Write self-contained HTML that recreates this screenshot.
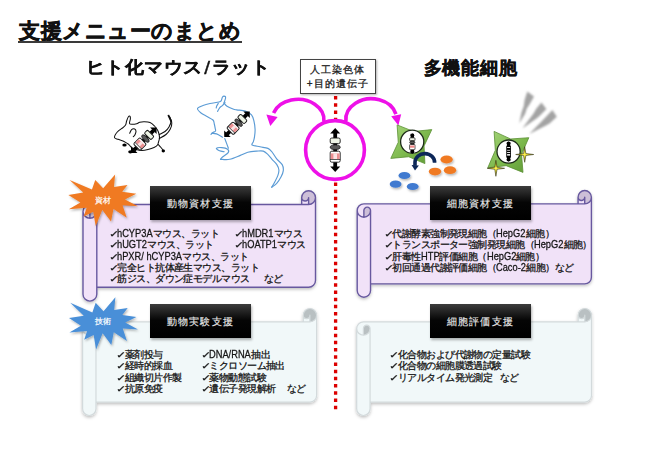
<!DOCTYPE html>
<html><head><meta charset="utf-8"><style>
html,body{margin:0;padding:0;background:#fff;}
body{width:646px;height:450px;position:relative;overflow:hidden;font-family:"Liberation Sans",sans-serif;color:#111;}
.t{position:absolute;white-space:nowrap;}
.lab{position:absolute;width:101px;height:34px;background:linear-gradient(#3c3c3c,#050505 48%,#000);color:#e8e8e8;font-size:10px;letter-spacing:1.2px;-webkit-text-stroke:0.15px #e8e8e8;text-align:center;line-height:34px;padding-top:1px;box-sizing:border-box;box-shadow:0.5px 1.5px 2.5px rgba(0,0,0,.3);}
.li{position:absolute;font-size:10px;letter-spacing:-0.55px;white-space:nowrap;color:#141414;-webkit-text-stroke:0.28px #141414;}
.li div{height:11.25px;line-height:11.25px;}
.l{font-size:10.8px;letter-spacing:0;}
.l2{display:inline-block;font-size:10.8px;letter-spacing:0;transform:scaleX(0.86);transform-origin:0 0;}
.ck{display:inline-block;font-size:11px;margin-left:-0.8px;margin-right:-0.4px;letter-spacing:0;transform:scale(1.05,0.78);transform-origin:50% 80%;}
.nd{margin-left:14px;}
</style></head><body>
<svg width="646" height="450" style="position:absolute;left:0;top:0">
<defs>
<filter id="sh" x="-10%" y="-10%" width="120%" height="130%"><feDropShadow dx="0" dy="1.5" stdDeviation="1.5" flood-color="#000" flood-opacity="0.25"/></filter>
<filter id="sh2" x="-20%" y="-20%" width="140%" height="140%"><feDropShadow dx="1" dy="1.5" stdDeviation="1" flood-color="#000" flood-opacity="0.3"/></filter>
<filter id="bl2" x="-20%" y="-20%" width="140%" height="140%"><feGaussianBlur stdDeviation="0.9"/></filter>
<radialGradient id="sp" cx="0.5" cy="0.5" r="0.5"><stop offset="0" stop-color="#fff45a"/><stop offset="0.3" stop-color="#e8dc30"/><stop offset="1" stop-color="#6a6a18"/></radialGradient>
<linearGradient id="gg" x1="0" y1="0" x2="1" y2="1"><stop offset="0" stop-color="#a6d57a"/><stop offset="0.55" stop-color="#7cb84c"/><stop offset="1" stop-color="#5f9a36"/></linearGradient>
</defs>

<line x1="335.6" y1="96.05" x2="335.6" y2="409.2" stroke="#dc0000" stroke-width="3.3" stroke-dasharray="3.5,3.7"/>
<g filter="url(#sh)"><path d="M315.50,197.60 A6.90,6.90 0 0 1 308.60,204.50 L308.60,197.60 A3.45,3.45 0 0 1 305.15,201.05 A3.45,3.45 0 0 1 301.70,197.60 L301.70,204.50 L89.90,204.50 A6.90,6.90 0 0 0 83.00,211.40 L83.00,294.20 A6.90,6.90 0 0 0 89.90,301.10 A6.90,6.90 0 0 0 96.80,294.20 L96.80,287.30 L308.60,287.30 A6.90,6.90 0 0 0 315.50,280.40 Z M89.90,218.30 A6.90,6.90 0 0 0 96.80,211.40 A3.45,3.45 0 0 0 93.35,207.95 A3.45,3.45 0 0 0 89.90,211.40 Z" fill="#f1e2f8"/><path d="M89.90,218.30 A6.90,6.90 0 0 0 96.80,211.40 A3.45,3.45 0 0 0 93.35,207.95 A3.45,3.45 0 0 0 89.90,211.40 Z M308.60,204.50 A6.90,6.90 0 0 0 313.48,192.72 A6.90,6.90 0 0 0 301.70,197.60 A3.45,3.45 0 0 0 305.15,201.05 A3.45,3.45 0 0 0 308.60,197.60 Z" fill="#cdbfd8"/><path d="M83.00,211.40 A6.90,6.90 0 0 1 89.90,204.50 L301.70,204.50 L301.70,197.60 A6.90,6.90 0 0 1 308.60,190.70 A6.90,6.90 0 0 1 315.50,197.60 L315.50,280.40 A6.90,6.90 0 0 1 308.60,287.30 L96.80,287.30 L96.80,294.20 A6.90,6.90 0 0 1 89.90,301.10 A6.90,6.90 0 0 1 83.00,294.20 Z M301.70,204.50 L308.60,204.50 A6.90,6.90 0 0 0 315.50,197.60 M308.60,204.50 L308.60,197.60 A3.45,3.45 0 0 1 305.15,201.05 A3.45,3.45 0 0 1 301.70,197.60 M89.90,218.30 L89.90,211.40 A3.45,3.45 0 0 1 93.35,207.95 A3.45,3.45 0 0 1 96.80,211.40 A6.90,6.90 0 0 1 89.90,218.30 A6.90,6.90 0 0 1 83.00,211.40 M96.80,211.40 L96.80,287.30" fill="none" stroke="#67599f" stroke-width="1.4" stroke-linejoin="round"/></g><g filter="url(#sh)"><path d="M591.40,197.17 A6.67,6.67 0 0 1 584.73,203.84 L584.73,197.17 A3.33,3.33 0 0 1 581.40,200.50 A3.33,3.33 0 0 1 578.06,197.17 L578.06,203.84 L363.87,203.84 A6.67,6.67 0 0 0 357.20,210.51 L357.20,290.53 A6.67,6.67 0 0 0 363.87,297.20 A6.67,6.67 0 0 0 370.54,290.53 L370.54,283.86 L584.73,283.86 A6.67,6.67 0 0 0 591.40,277.19 Z M363.87,217.18 A6.67,6.67 0 0 0 370.54,210.51 A3.33,3.33 0 0 0 367.20,207.17 A3.33,3.33 0 0 0 363.87,210.51 Z" fill="#f1e2f8"/><path d="M363.87,217.18 A6.67,6.67 0 0 0 370.54,210.51 A3.33,3.33 0 0 0 367.20,207.17 A3.33,3.33 0 0 0 363.87,210.51 Z M584.73,203.84 A6.67,6.67 0 0 0 589.45,192.45 A6.67,6.67 0 0 0 578.06,197.17 A3.33,3.33 0 0 0 581.40,200.50 A3.33,3.33 0 0 0 584.73,197.17 Z" fill="#cdbfd8"/><path d="M357.20,210.51 A6.67,6.67 0 0 1 363.87,203.84 L578.06,203.84 L578.06,197.17 A6.67,6.67 0 0 1 584.73,190.50 A6.67,6.67 0 0 1 591.40,197.17 L591.40,277.19 A6.67,6.67 0 0 1 584.73,283.86 L370.54,283.86 L370.54,290.53 A6.67,6.67 0 0 1 363.87,297.20 A6.67,6.67 0 0 1 357.20,290.53 Z M578.06,203.84 L584.73,203.84 A6.67,6.67 0 0 0 591.40,197.17 M584.73,203.84 L584.73,197.17 A3.33,3.33 0 0 1 581.40,200.50 A3.33,3.33 0 0 1 578.06,197.17 M363.87,217.18 L363.87,210.51 A3.33,3.33 0 0 1 367.20,207.17 A3.33,3.33 0 0 1 370.54,210.51 A6.67,6.67 0 0 1 363.87,217.18 A6.67,6.67 0 0 1 357.20,210.51 M370.54,210.51 L370.54,283.86" fill="none" stroke="#67599f" stroke-width="1.4" stroke-linejoin="round"/></g><g filter="url(#sh)"><path d="M316.60,315.19 A6.69,6.69 0 0 1 309.91,321.88 L309.91,315.19 A3.34,3.34 0 0 1 306.57,318.53 A3.34,3.34 0 0 1 303.23,315.19 L303.23,321.88 L89.29,321.88 A6.69,6.69 0 0 0 82.60,328.56 L82.60,408.81 A6.69,6.69 0 0 0 89.29,415.50 A6.69,6.69 0 0 0 95.97,408.81 L95.97,402.12 L309.91,402.12 A6.69,6.69 0 0 0 316.60,395.44 Z M89.29,335.25 A6.69,6.69 0 0 0 95.97,328.56 A3.34,3.34 0 0 0 92.63,325.22 A3.34,3.34 0 0 0 89.29,328.56 Z" fill="#f1f8f9"/><path d="M89.29,335.25 A6.69,6.69 0 0 0 95.97,328.56 A3.34,3.34 0 0 0 92.63,325.22 A3.34,3.34 0 0 0 89.29,328.56 Z M309.91,321.88 A6.69,6.69 0 0 0 314.64,310.46 A6.69,6.69 0 0 0 303.23,315.19 A3.34,3.34 0 0 0 306.57,318.53 A3.34,3.34 0 0 0 309.91,315.19 Z" fill="#b9c0c2"/><path d="M82.60,328.56 A6.69,6.69 0 0 1 89.29,321.88 L303.23,321.88 L303.23,315.19 A6.69,6.69 0 0 1 309.91,308.50 A6.69,6.69 0 0 1 316.60,315.19 L316.60,395.44 A6.69,6.69 0 0 1 309.91,402.12 L95.97,402.12 L95.97,408.81 A6.69,6.69 0 0 1 89.29,415.50 A6.69,6.69 0 0 1 82.60,408.81 Z M303.23,321.88 L309.91,321.88 A6.69,6.69 0 0 0 316.60,315.19 M309.91,321.88 L309.91,315.19 A3.34,3.34 0 0 1 306.57,318.53 A3.34,3.34 0 0 1 303.23,315.19 M89.29,335.25 L89.29,328.56 A3.34,3.34 0 0 1 92.63,325.22 A3.34,3.34 0 0 1 95.97,328.56 A6.69,6.69 0 0 1 89.29,335.25 A6.69,6.69 0 0 1 82.60,328.56 M95.97,328.56 L95.97,402.12" fill="none" stroke="#d3dadc" stroke-width="1.2" stroke-linejoin="round"/></g><g filter="url(#sh)"><path d="M591.50,315.19 A6.69,6.69 0 0 1 584.81,321.88 L584.81,315.19 A3.34,3.34 0 0 1 581.47,318.53 A3.34,3.34 0 0 1 578.12,315.19 L578.12,321.88 L363.39,321.88 A6.69,6.69 0 0 0 356.70,328.56 L356.70,408.81 A6.69,6.69 0 0 0 363.39,415.50 A6.69,6.69 0 0 0 370.07,408.81 L370.07,402.12 L584.81,402.12 A6.69,6.69 0 0 0 591.50,395.44 Z M363.39,335.25 A6.69,6.69 0 0 0 370.07,328.56 A3.34,3.34 0 0 0 366.73,325.22 A3.34,3.34 0 0 0 363.39,328.56 Z" fill="#f1f8f9"/><path d="M363.39,335.25 A6.69,6.69 0 0 0 370.07,328.56 A3.34,3.34 0 0 0 366.73,325.22 A3.34,3.34 0 0 0 363.39,328.56 Z M584.81,321.88 A6.69,6.69 0 0 0 589.54,310.46 A6.69,6.69 0 0 0 578.12,315.19 A3.34,3.34 0 0 0 581.47,318.53 A3.34,3.34 0 0 0 584.81,315.19 Z" fill="#b9c0c2"/><path d="M356.70,328.56 A6.69,6.69 0 0 1 363.39,321.88 L578.12,321.88 L578.12,315.19 A6.69,6.69 0 0 1 584.81,308.50 A6.69,6.69 0 0 1 591.50,315.19 L591.50,395.44 A6.69,6.69 0 0 1 584.81,402.12 L370.07,402.12 L370.07,408.81 A6.69,6.69 0 0 1 363.39,415.50 A6.69,6.69 0 0 1 356.70,408.81 Z M578.12,321.88 L584.81,321.88 A6.69,6.69 0 0 0 591.50,315.19 M584.81,321.88 L584.81,315.19 A3.34,3.34 0 0 1 581.47,318.53 A3.34,3.34 0 0 1 578.12,315.19 M363.39,335.25 L363.39,328.56 A3.34,3.34 0 0 1 366.73,325.22 A3.34,3.34 0 0 1 370.07,328.56 A6.69,6.69 0 0 1 363.39,335.25 A6.69,6.69 0 0 1 356.70,328.56 M370.07,328.56 L370.07,402.12" fill="none" stroke="#d3dadc" stroke-width="1.2" stroke-linejoin="round"/></g>
<path d="M103.15,188.26 L115.13,174.40 L113.95,187.12 L127.54,185.05 L122.14,191.87 L136.28,193.84 L125.05,199.42 L137.90,206.15 L122.57,205.32 L126.78,217.63 L113.51,208.94 L111.02,221.55 L102.29,210.08 L95.70,226.00 L93.22,211.73 L83.72,216.49 L86.63,207.69 L68.83,209.25 L80.38,202.53 L68.40,194.98 L83.29,192.60 L69.59,179.88 L91.93,189.50 L95.27,179.88 Z" fill="#f07a22" filter="url(#sh2)"/>
<path d="M103.50,311.24 L115.39,297.20 L114.22,310.09 L127.71,307.99 L122.35,314.91 L136.39,316.90 L125.24,322.56 L138.00,329.38 L122.78,328.54 L126.96,341.01 L113.79,332.20 L111.32,344.99 L102.64,333.36 L96.10,349.50 L93.65,335.04 L84.21,339.86 L87.10,330.95 L69.43,332.52 L80.89,325.71 L69.00,318.06 L83.78,315.64 L70.18,302.76 L92.36,312.50 L95.68,302.76 Z" fill="#4a8fd8" filter="url(#sh2)"/>
<!-- magenta circle -->
<circle cx="335" cy="150" r="29.4" fill="#fff" stroke="#ee10e8" stroke-width="3.6"/>
<g transform="translate(335.2,150) rotate(0) scale(1.0)"><line x1="0" y1="-17" x2="0" y2="17" stroke="#000" stroke-width="3.8"/>
<path d="M-5,-16.5 L0,-22 L5,-16.5 Z" fill="#000"/>
<path d="M-5,16.5 L0,22 L5,16.5 Z" fill="#000"/>
<rect x="-5.0" y="-12" width="10" height="5.6" rx="1.6" fill="#eef4e6" stroke="#1a1a1a" stroke-width="0.9"/>
<ellipse cx="0" cy="-2.8" rx="5.0" ry="2.3" fill="#5a5a5a" stroke="#222" stroke-width="0.81"/>
<rect x="-5.0" y="1.2" width="10" height="11" rx="1.6" fill="#fff" stroke="#1a1a1a" stroke-width="0.9"/>
<rect x="-4.5" y="3.4" width="9" height="5.6" fill="#ec9092"/>
<rect x="-1.8" y="3.4" width="3.6" height="5.6" fill="#fbe3e3"/>
<line x1="-5.0" y1="9.5" x2="5.0" y2="9.5" stroke="#1a1a1a" stroke-width="0.7200000000000001"/></g>
<path d="M323.90,121.80 A26,20.6 0 0 0 314.71,104.22 A26,20.6 0 0 0 291.27,100.10 A26,20.6 0 0 0 273.57,112.95" fill="none" stroke="#ee10e8" stroke-width="3.6"/>
<path d="M266.4,114.4 L270.3,126 L277.6,116.9 Z" fill="#ee10e8"/>
<path d="M345.90,121.30 A25.5,20.7 0 0 1 355.48,103.26 A25.5,20.7 0 0 1 379.32,99.85 A25.5,20.7 0 0 1 395.93,114.14" fill="none" stroke="#ee10e8" stroke-width="3.6"/>
<path d="M391.2,116.2 L398.4,125.6 L401.2,114.3 Z" fill="#ee10e8"/>
<!-- mouse -->
<g fill="none" stroke="#111" stroke-width="1.05" stroke-linecap="round" stroke-linejoin="round">
<path d="M114.50,137.50 C114.38,136.28 115.83,133.70 117.30,132.00 C118.77,130.30 121.90,128.52 123.30,127.30 C124.70,126.08 125.13,125.80 125.70,124.70 C126.27,123.60 126.20,122.10 126.70,120.70 C127.20,119.30 128.15,117.02 128.70,116.30 C129.25,115.58 129.72,116.00 130.00,116.40 C130.28,116.80 130.48,117.55 130.40,118.70 C130.32,119.85 129.23,122.37 129.50,123.30 C129.77,124.23 130.80,124.23 132.00,124.30 C133.20,124.37 135.42,124.03 136.70,123.70 C137.98,123.37 138.48,122.62 139.70,122.30 C140.92,121.98 142.28,121.77 144.00,121.80 C145.72,121.83 148.25,121.80 150.00,122.50 C151.75,123.20 153.25,124.75 154.50,126.00 C155.75,127.25 156.75,128.67 157.50,130.00 C158.25,131.33 158.67,132.67 159.00,134.00 C159.33,135.33 159.58,136.67 159.50,138.00 C159.42,139.33 158.83,140.83 158.50,142.00 C158.17,143.17 158.25,144.08 157.50,145.00 C156.75,145.92 155.58,146.75 154.00,147.50 C152.42,148.25 150.00,149.00 148.00,149.50 C146.00,150.00 144.00,150.50 142.00,150.50 C140.00,150.50 137.68,149.97 136.00,149.50 C134.32,149.03 132.95,148.37 131.90,147.70 C130.85,147.03 130.32,146.12 129.70,145.50 C129.08,144.88 128.82,144.48 128.20,144.00 C127.58,143.52 126.98,143.13 126.00,142.60 C125.02,142.07 123.63,141.35 122.30,140.80 C120.97,140.25 119.30,139.85 118.00,139.30 C116.70,138.75 114.62,138.72 114.50,137.50 Z" fill="#fff"/>
<path d="M159.30,134.50 C160.25,134.00 163.38,132.75 165.00,131.50 C166.62,130.25 168.00,128.75 169.00,127.00 C170.00,125.25 171.12,122.97 171.00,121.00 C170.88,119.03 168.75,116.17 168.30,115.20"/><path d="M159.30,138.50 C160.42,137.83 164.17,136.08 166.00,134.50 C167.83,132.92 169.33,130.92 170.30,129.00 C171.27,127.08 171.93,125.08 171.80,123.00 C171.67,120.92 169.88,117.58 169.50,116.50"/><path d="M129.70,133.30 C130.02,132.68 130.77,130.32 131.60,129.60 C132.43,128.88 133.97,128.72 134.70,129.00 C135.43,129.28 135.95,130.35 136.00,131.30 C136.05,132.25 135.45,133.80 135.00,134.70 C134.55,135.60 133.58,136.37 133.30,136.70"/><path d="M158.30,144.50 C158.75,145.00 160.13,146.50 161.00,147.50 C161.87,148.50 163.08,150.00 163.50,150.50"/>
</g>
<path d="M168.3,115.2 L170.6,120 L171.4,122" stroke="#111" stroke-width="1.8" fill="none"/>
<ellipse cx="124.5" cy="145" rx="2.2" ry="1.6" fill="#000"/>
<ellipse cx="130.4" cy="151.8" rx="2.2" ry="1.6" fill="#000"/>
<ellipse cx="163.3" cy="151" rx="1.7" ry="1.4" fill="#000"/>
<g transform="translate(143.8,140.2) rotate(45) scale(0.82)"><line x1="0" y1="-17" x2="0" y2="17" stroke="#000" stroke-width="4.6"/>
<path d="M-5.6,-16.5 L0,-22 L5.6,-16.5 Z" fill="#000"/>
<path d="M-5.6,16.5 L0,22 L5.6,16.5 Z" fill="#000"/>
<rect x="-5.75" y="-12" width="11.5" height="5.6" rx="1.6" fill="#eef4e6" stroke="#1a1a1a" stroke-width="1.2"/>
<ellipse cx="0" cy="-2.8" rx="5.75" ry="2.3" fill="#5a5a5a" stroke="#222" stroke-width="1.08"/>
<rect x="-5.75" y="1.2" width="11.5" height="11" rx="1.6" fill="#fff" stroke="#1a1a1a" stroke-width="1.2"/>
<rect x="-5.25" y="3.4" width="10.5" height="5.6" fill="#ec9092"/>
<rect x="-1.8" y="3.4" width="3.6" height="5.6" fill="#fbe3e3"/>
<line x1="-5.75" y1="9.5" x2="5.75" y2="9.5" stroke="#1a1a1a" stroke-width="0.96"/></g>
<!-- rat -->
<g fill="none" stroke="#5b9bd5" stroke-width="1.15" stroke-linecap="round" stroke-linejoin="round">
<path d="M224.00,103.00 C224.50,103.53 225.50,105.20 227.00,106.20 C228.50,107.20 231.37,108.38 233.00,109.00 C234.63,109.62 234.75,109.55 236.80,109.90 C238.85,110.25 242.85,110.28 245.30,111.10 C247.75,111.92 250.07,113.17 251.50,114.80 C252.93,116.43 253.30,118.47 253.90,120.90 C254.50,123.33 255.00,126.75 255.10,129.40 C255.20,132.05 254.78,134.77 254.50,136.80 C254.22,138.83 253.80,140.23 253.40,141.60 C253.00,142.97 251.00,144.13 252.10,145.00 C253.20,145.87 257.37,146.23 260.00,146.80 C262.63,147.37 265.90,147.53 267.90,148.40 C269.90,149.27 270.53,150.25 272.00,152.00 C273.47,153.75 275.00,156.80 276.70,158.90 C278.40,161.00 281.10,162.65 282.20,164.60 C283.30,166.55 283.48,168.58 283.30,170.60 C283.12,172.62 282.20,174.58 281.10,176.70 C280.00,178.82 278.27,181.55 276.70,183.30 C275.13,185.05 272.53,186.55 271.70,187.20"/><path d="M271.70,187.20 C272.18,186.37 273.58,184.13 274.60,182.20 C275.62,180.27 277.08,177.63 277.80,175.60 C278.52,173.57 279.08,171.87 278.90,170.00 C278.72,168.13 277.82,166.13 276.70,164.40 C275.58,162.67 273.68,161.27 272.20,159.60 C270.72,157.93 269.28,155.82 267.80,154.40 C266.32,152.98 265.15,151.65 263.30,151.10 C261.45,150.55 259.28,150.92 256.70,151.10 C254.12,151.28 250.53,151.48 247.80,152.20 C245.07,152.92 243.32,154.22 240.30,155.40 C237.28,156.58 233.00,158.65 229.70,159.30 C226.40,159.95 222.03,159.30 220.50,159.30"/><path d="M220.50,159.30 C220.83,158.92 221.22,158.12 222.50,157.00 C223.78,155.88 227.35,153.90 228.20,152.60 C229.05,151.30 228.67,150.03 227.60,149.20 C226.53,148.37 223.67,147.73 221.80,147.60 C219.93,147.47 216.78,147.87 216.40,148.40 C216.02,148.93 218.20,150.25 219.50,150.80 C220.80,151.35 223.42,151.55 224.20,151.70"/><path d="M228.40,148.20 C228.07,147.32 227.00,144.50 226.40,142.90 C225.80,141.30 225.07,139.32 224.80,138.60"/><path d="M224.00,103.00 C224.27,102.17 225.43,99.10 225.60,98.00 C225.77,96.90 225.50,96.60 225.00,96.40 C224.50,96.20 223.22,96.10 222.60,96.80 C221.98,97.50 221.90,99.73 221.30,100.60 C220.70,101.47 220.88,101.52 219.00,102.00 C217.12,102.48 212.67,102.92 210.00,103.50 C207.33,104.08 205.08,104.67 203.00,105.50 C200.92,106.33 197.83,107.25 197.50,108.50 C197.17,109.75 199.42,111.67 201.00,113.00 C202.58,114.33 205.00,115.33 207.00,116.50 C209.00,117.67 211.78,118.75 213.00,120.00 C214.22,121.25 213.93,122.62 214.30,124.00 C214.67,125.38 215.00,127.13 215.20,128.30 C215.40,129.47 215.97,130.25 215.50,131.00 C215.03,131.75 213.15,132.22 212.40,132.80 C211.65,133.38 211.23,134.22 211.00,134.50"/><path d="M212.30,133.40 C213.02,133.48 214.90,133.27 216.60,133.90 C218.30,134.53 221.52,136.65 222.50,137.20"/><path d="M218.30,103.30 C218.05,103.72 217.15,105.02 216.80,105.80 C216.45,106.58 216.30,107.63 216.20,108.00"/><path d="M225.00,102.50 C224.60,102.97 223.47,104.45 222.60,105.30 C221.73,106.15 220.63,106.58 219.80,107.60 C218.97,108.62 217.97,110.77 217.60,111.40"/>
</g>
<g transform="translate(237,124.3) rotate(45) scale(0.82)"><line x1="0" y1="-17" x2="0" y2="17" stroke="#000" stroke-width="4.6"/>
<path d="M-5.6,-16.5 L0,-22 L5.6,-16.5 Z" fill="#000"/>
<path d="M-5.6,16.5 L0,22 L5.6,16.5 Z" fill="#000"/>
<rect x="-5.75" y="-12" width="11.5" height="5.6" rx="1.6" fill="#eef4e6" stroke="#1a1a1a" stroke-width="1.2"/>
<ellipse cx="0" cy="-2.8" rx="5.75" ry="2.3" fill="#5a5a5a" stroke="#222" stroke-width="1.08"/>
<rect x="-5.75" y="1.2" width="11.5" height="11" rx="1.6" fill="#fff" stroke="#1a1a1a" stroke-width="1.2"/>
<rect x="-5.25" y="3.4" width="10.5" height="5.6" fill="#ec9092"/>
<rect x="-1.8" y="3.4" width="3.6" height="5.6" fill="#fbe3e3"/>
<line x1="-5.75" y1="9.5" x2="5.75" y2="9.5" stroke="#1a1a1a" stroke-width="0.96"/></g>
<!-- cells -->
<g filter="url(#bl2)"><path d="M527.3,91.4 L534,96.4 L529.5,104.5 L526.8,108.5 L525,114 L519.3,123.2 L521.5,112.5 L523.8,106 L524.6,100 Z" fill="#a3a3a3"/><path d="M541.4,102.6 L546.4,108.9 L540,115.5 L536.5,118.5 L532.6,121.2 L522.3,128.6 L529,119.5 L533.5,113.5 L536.4,108.5 Z" fill="#a3a3a3"/><path d="M552.4,110 L556.8,116.7 L549.5,123.4 L545.5,125.7 L541,128 L529.2,134 L536.5,126.5 L541.5,121.5 L546.5,116.2 Z" fill="#a3a3a3"/></g>
<path d="M397.10,124.90 L413.62,131.47 L431.80,129.60 L424.05,145.98 L424.90,163.60 L408.68,156.78 L390.80,158.40 L398.25,142.27 Z" fill="url(#gg)" stroke="#5b8f34" stroke-width="0.8" stroke-linejoin="round"/>
<circle cx="412.2" cy="141.7" r="11.6" fill="#fff" stroke="#1c2a18" stroke-width="1.3"/>
<g transform="translate(412.3,143.4)">
<rect x="-1.7" y="-9.6" width="3.4" height="19.2" fill="#000"/>
<path d="M-2.6,-8 L0,-10.2 L2.6,-8 Z" fill="#000"/><path d="M-2.6,8 L0,10.2 L2.6,8 Z" fill="#000"/>
<rect x="-2.7" y="-5.6" width="5.4" height="3" rx="0.8" fill="#eef3e6" stroke="#111" stroke-width="0.7"/>
<ellipse cx="0" cy="-1" rx="2.7" ry="1.4" fill="#555" stroke="#111" stroke-width="0.6"/>
<rect x="-2.7" y="1" width="5.4" height="5.4" rx="0.8" fill="#fff" stroke="#111" stroke-width="0.7"/>
<rect x="-2.3" y="2.1" width="4.6" height="2.2" fill="#e88"/>
</g>
<path d="M494.10,131.40 L510.69,138.99 L528.80,137.70 L521.53,154.37 L523.00,172.40 L506.16,165.66 L487.80,167.80 L495.32,150.28 Z" fill="url(#gg)" stroke="#5b8f34" stroke-width="0.8" stroke-linejoin="round"/>
<circle cx="508.6" cy="151.6" r="11.6" fill="#fff" stroke="#1c2a18" stroke-width="1.3"/>
<g transform="translate(508.6,151.5)">
<rect x="-1.7" y="-9.6" width="3.4" height="19.2" fill="#000"/>
<path d="M-2.6,-8 L0,-10.2 L2.6,-8 Z" fill="#000"/><path d="M-2.6,8 L0,10.2 L2.6,8 Z" fill="#000"/>
<rect x="-2.3" y="-6" width="4.6" height="12.5" rx="1.2" fill="#000"/>
<rect x="-1.5" y="-4.4" width="3" height="0.9" fill="#fff"/>
<rect x="-1.5" y="-1.6" width="3" height="0.7" fill="#fff"/>
<rect x="-1.5" y="0.6" width="3" height="0.9" fill="#fff"/>
<rect x="-1.5" y="2.6" width="3" height="1.5" fill="#fff"/>
</g>
<path d="M524.70,146.70 L525.87,153.49 L533.70,154.50 L525.87,155.51 L524.70,162.30 L523.53,155.51 L515.70,154.50 L523.53,153.49 Z" fill="url(#sp)" stroke="#3a3a14" stroke-width="0.6"/>
<path d="M495.90,160.30 L497.03,167.26 L504.60,168.30 L497.03,169.34 L495.90,176.30 L494.77,169.34 L487.20,168.30 L494.77,167.26 Z" fill="url(#sp)" stroke="#3a3a14" stroke-width="0.6"/>
<!-- navy arrow -->
<path d="M434.59,162.76 A9.8,8.7 0 0 0 432.00,156.39 A9.8,8.7 0 0 0 425.06,153.60 A9.8,8.7 0 0 0 417.96,156.07 A9.8,8.7 0 0 0 415.00,162.30 L415,165.8" fill="none" stroke="#0c2758" stroke-width="3.6"/>
<path d="M411.6,165 L415,170.6 L418.9,165.6 Z" fill="#0c2758"/>
<!-- particles -->
<g filter="url(#sh2)">
<ellipse cx="446.6" cy="159.5" rx="6.2" ry="3.9" fill="#f07a22"/>
<ellipse cx="435" cy="171.6" rx="6.2" ry="3.9" fill="#f07a22"/>
<ellipse cx="450" cy="170.2" rx="6.2" ry="3.9" fill="#f07a22"/>
<ellipse cx="404.4" cy="175.5" rx="5.9" ry="3.6" fill="#3f7ad0"/>
<ellipse cx="395.6" cy="184.1" rx="5.9" ry="3.6" fill="#3f7ad0"/>
<ellipse cx="412.7" cy="186.5" rx="5.9" ry="3.6" fill="#3f7ad0"/>
</g>

</svg>
<div class="t" style="left:19px;top:19.8px;font-size:21px;letter-spacing:0.5px;font-weight:bold;line-height:21px;-webkit-text-stroke:0.6px #111;">支援メニューのまとめ</div><div class="t" style="left:18px;top:41.4px;width:223.5px;height:1.3px;background:#3a3a3a"></div>
<div class="t" style="left:85.5px;top:57.6px;font-size:19px;letter-spacing:0.55px;transform:scaleY(0.9);transform-origin:0 0;line-height:22px;font-weight:bold;-webkit-text-stroke:0.4px #111;">ヒト化マウス<span style="margin:0 1px 0 1.5px;font-size:21px;font-weight:normal;vertical-align:-1px">/</span>ラット</div>
<div class="t" style="left:423.5px;top:57.3px;font-size:18px;line-height:22px;letter-spacing:0.9px;font-weight:bold;-webkit-text-stroke:0.4px #111;">多機能細胞</div>
<div class="t" style="left:300px;top:59.4px;width:73.5px;height:29.4px;border:1.3px solid #444;font-size:10px;letter-spacing:1px;-webkit-text-stroke:0.3px #222;color:#222;line-height:13.5px;text-align:center;padding-top:3px;box-sizing:content-box;box-shadow:1px 1px 2px rgba(0,0,0,.3);background:#fff">人工染色体<br>+目的遺伝子</div>
<div class="lab" style="left:150px;top:186px;">動物資材支援</div>
<div class="lab" style="left:430px;top:186px;">細胞資材支援</div>
<div class="lab" style="left:150px;top:304px;">動物実験支援</div>
<div class="lab" style="left:430px;top:304px;">細胞評価支援</div>
<div class="t" style="left:94.5px;top:194.5px;font-size:8px;letter-spacing:0.3px;color:#fff;-webkit-text-stroke:0.2px #fff">資材</div>
<div class="t" style="left:94.5px;top:316.3px;font-size:8px;letter-spacing:0.3px;color:#fff;-webkit-text-stroke:0.2px #fff">技術</div>
<div class="li" style="left:109.5px;top:228px"><div><span class="ck">✓</span><span class="l2" style="margin-right:-5.80px">hCYP3A</span>マウス、ラット</div><div><span class="ck">✓</span><span class="l2" style="margin-right:-4.87px">hUGT2</span>マウス、ラット</div><div><span class="ck">✓</span><span class="l2" style="margin-right:-10.59px">hPXR/ hCYP3A</span>マウス、ラット</div><div><span class="ck">✓</span>完全ヒト抗体産生マウス、ラット</div><div><span class="ck">✓</span>筋ジス、ダウン症モデルマウス<span style="margin-left:14px">など</span></div></div>
<div class="li" style="left:234.5px;top:228px"><div><span class="ck">✓</span><span class="l2" style="margin-right:-5.13px">hMDR1</span>マウス</div><div><span class="ck">✓</span><span class="l2" style="margin-right:-5.69px">hOATP1</span>マウス</div></div>
<div class="li" style="left:384.5px;top:228px"><div><span class="ck">✓</span>代謝酵素強制発現細胞（<span class="l2" style="margin-right:-4.79px">HepG2</span>細胞）</div><div><span class="ck">✓</span>トランスポーター強制発現細胞（<span class="l2" style="margin-right:-4.79px">HepG2</span>細胞）</div><div><span class="ck">✓</span>肝毒性<span class="l2" style="margin-right:-3.03px">HTP</span>評価細胞（<span class="l2" style="margin-right:-4.79px">HepG2</span>細胞）</div><div><span class="ck">✓</span>初回通過代謝評価細胞（<span class="l2" style="margin-right:-4.87px">Caco-2</span>細胞）など</div></div>
<div class="li" style="left:117px;top:349px"><div><span class="ck">✓</span>薬剤投与</div><div><span class="ck">✓</span>経時的採血</div><div><span class="ck">✓</span>組織切片作製</div><div><span class="ck">✓</span>抗原免疫</div></div>
<div class="li" style="left:201.5px;top:349px"><div><span class="ck">✓</span><span class="l2" style="margin-right:-6.80px">DNA/RNA</span>抽出</div><div><span class="ck">✓</span>ミクロソーム抽出</div><div><span class="ck">✓</span>薬物動態試験</div><div><span class="ck">✓</span>遺伝子発現解析<span style="margin-left:11.2px">など</span></div></div>
<div class="li" style="left:390px;top:349px"><div><span class="ck">✓</span>化合物および代謝物の定量試験</div><div><span class="ck">✓</span>化合物の細胞膜透過試験</div><div><span class="ck">✓</span>リアルタイム発光測定<span style="margin-left:7.4px">など</span></div></div>
</body></html>
